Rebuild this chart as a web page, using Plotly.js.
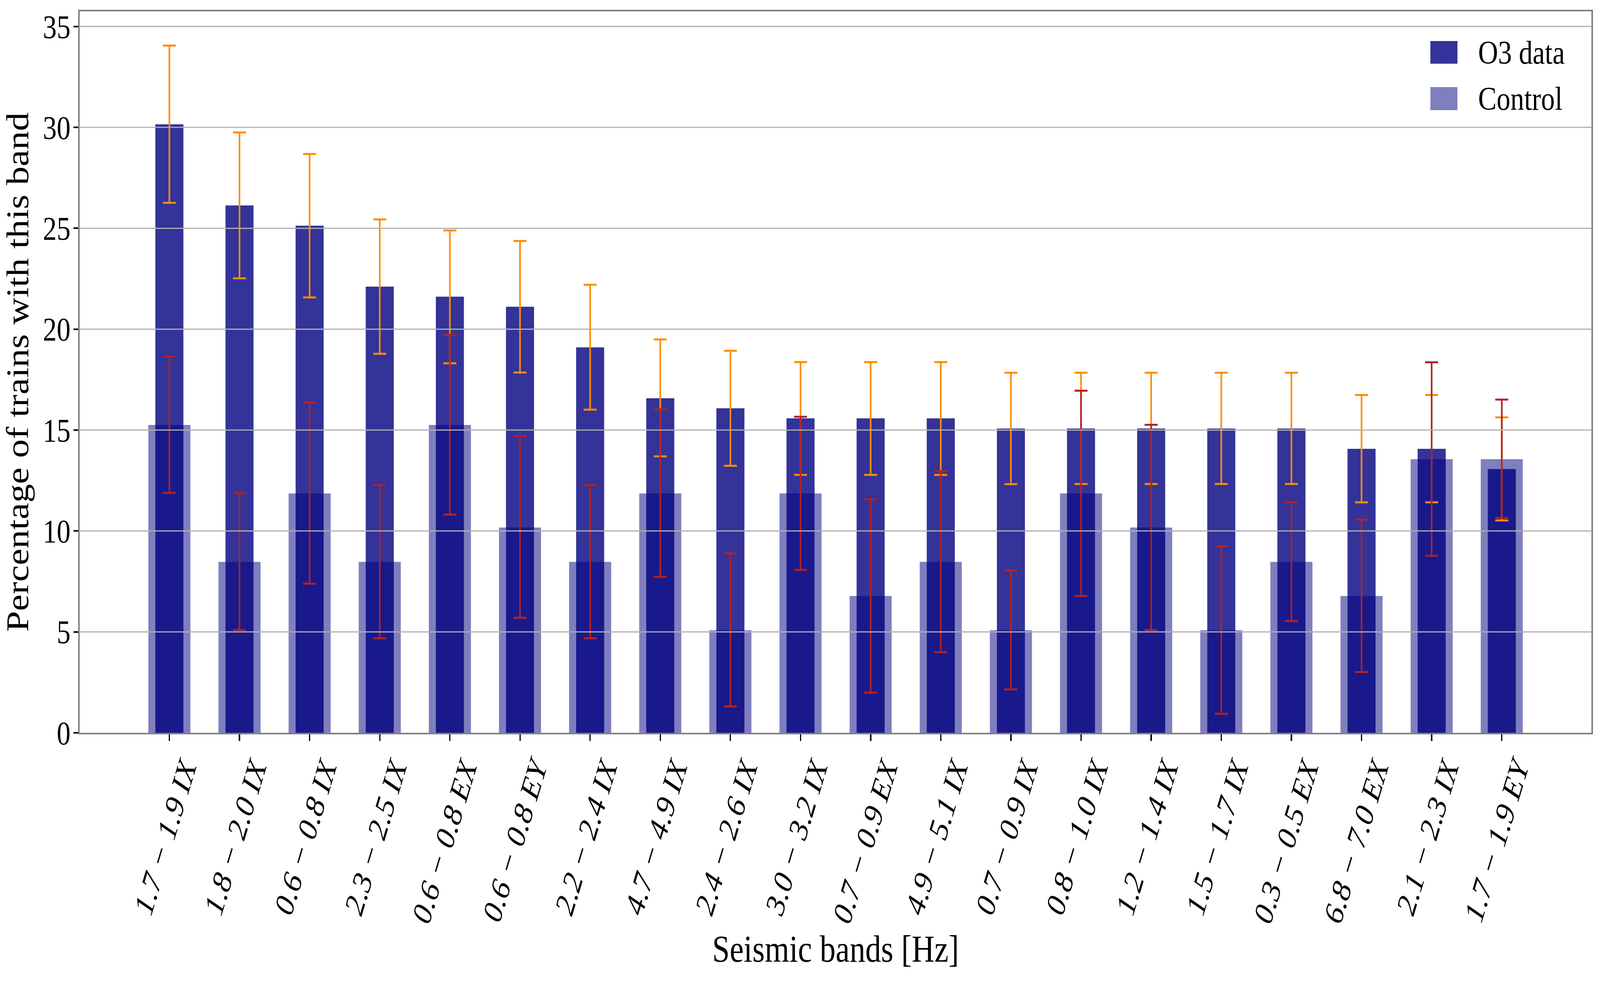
<!DOCTYPE html>
<html>
<head>
<meta charset="utf-8">
<script src="https://cdn.plot.ly/plotly-3.0.1.min.js"></script>
<style>
  html, body {margin: 0; padding: 0; background: #ffffff; overflow: hidden;}
  #plot {position: absolute; left: 0; top: 0; width: 4924px; height: 2514px; transform-origin: 0 0;}
</style>
</head>
<body>
<div id="plot"></div>
<script>
// seismic bands, in plot order
var bands = ['1.7 \u2212 1.9 IX', '1.8 \u2212 2.0 IX', '0.6 \u2212 0.8 IX', '2.3 \u2212 2.5 IX', '0.6 \u2212 0.8 EX',
             '0.6 \u2212 0.8 EY', '2.2 \u2212 2.4 IX', '4.7 \u2212 4.9 IX', '2.4 \u2212 2.6 IX', '3.0 \u2212 3.2 IX',
             '0.7 \u2212 0.9 EX', '4.9 \u2212 5.1 IX', '0.7 \u2212 0.9 IX', '0.8 \u2212 1.0 IX', '1.2 \u2212 1.4 IX',
             '1.5 \u2212 1.7 IX', '0.3 \u2212 0.5 EX', '6.8 \u2212 7.0 EX', '2.1 \u2212 2.3 IX', '1.7 \u2212 1.9 EY']

// O3 data: percentage and error interval
var o3 = [30.15, 26.13, 25.13, 22.11, 21.61, 21.11, 19.10, 16.58, 16.08, 15.58,
          15.58, 15.58, 15.08, 15.08, 15.08, 15.08, 15.08, 14.07, 14.07, 13.07]
var o3_lo = [26.26, 22.52, 21.57, 18.78, 18.31, 17.85, 16.01, 13.70, 13.23, 12.78,
             12.78, 12.78, 12.32, 12.33, 12.33, 12.33, 12.33, 11.42, 11.42, 10.52]
var o3_hi = [34.05, 29.75, 28.68, 25.44, 24.89, 24.37, 22.20, 19.49, 18.93, 18.37,
             18.37, 18.37, 17.84, 17.84, 17.84, 17.84, 17.84, 16.74, 16.74, 15.63]

// control sample
var ctrl = [15.25, 8.47, 11.86, 8.47, 15.25, 10.17, 8.47, 11.86, 5.08, 11.86,
            6.78, 8.47, 5.08, 11.86, 10.17, 5.08, 8.47, 6.78, 13.56, 13.56]
var ctrl_lo = [11.89, 5.09, 7.39, 4.68, 10.81, 5.69, 4.68, 7.73, 1.30, 8.07,
               1.99, 3.99, 2.15, 6.78, 5.09, 0.94, 5.54, 3.01, 8.77, 10.64]
var ctrl_hi = [18.64, 11.88, 16.36, 12.27, 19.72, 14.70, 12.27, 16.03, 8.89, 15.66,
               11.57, 12.96, 8.04, 16.95, 15.26, 9.24, 11.42, 10.56, 18.36, 16.51]

var y_ticks = [0, 5, 10, 15, 20, 25, 30, 35]
var legend_names = ['O3 data', 'Control']

var serif = 'Liberation Serif, DejaVu Serif, serif'
var o3_color = 'rgba(0,0,128,0.8)'
var ctrl_color = 'rgba(0,0,128,0.5)'

function up(v, hi) { return hi.map(function(h, i) { return h - v[i] }) }
function down(v, lo) { return lo.map(function(l, i) { return v[i] - l }) }

var o3_trace = {
   name: legend_names[0],
   type: 'bar',
   x: bands,
   y: o3,
   width: 0.4,
   marker: {color: o3_color, line: {width: 0}},
   hoverinfo: 'x+y'
}
var ctrl_trace = {
   name: legend_names[1],
   type: 'bar',
   x: bands,
   y: ctrl,
   width: 0.6,
   marker: {color: ctrl_color, line: {width: 0}},
   hoverinfo: 'x+y'
}
// error bars drawn on top of all bars, as matplotlib's errorbar does
var o3_err = {
   type: 'scatter',
   mode: 'markers',
   x: bands,
   y: o3,
   marker: {size: 1, opacity: 0},
   showlegend: false,
   hoverinfo: 'skip',
   error_y: {type: 'data', symmetric: false, array: up(o3, o3_hi), arrayminus: down(o3, o3_lo),
             color: '#ff8c00', thickness: 5, width: 20}
}
var ctrl_err = {
   type: 'scatter',
   mode: 'markers',
   x: bands,
   y: ctrl,
   marker: {size: 1, opacity: 0},
   showlegend: false,
   hoverinfo: 'skip',
   error_y: {type: 'data', symmetric: false, array: up(ctrl, ctrl_hi), arrayminus: down(ctrl, ctrl_lo),
             color: '#b22222', thickness: 5, width: 20}
}

// grid sits above the bars in the original
var grid = y_ticks.slice(1).map(function(t) {
   return {type: 'line', xref: 'paper', yref: 'y', x0: 0, x1: 1, y0: t, y1: t,
           layer: 'above', line: {color: '#b0b0b0', width: 3}}
})

// legend with big square patches
var swatches = [
   {type: 'rect', xref: 'paper', yref: 'paper', x0: 0.8934, x1: 0.9113, y0: 0.9275, y1: 0.9589,
    fillcolor: o3_color, line: {width: 0}},
   {type: 'rect', xref: 'paper', yref: 'paper', x0: 0.8934, x1: 0.9113, y0: 0.8630, y1: 0.8950,
    fillcolor: ctrl_color, line: {width: 0}}
]
var legend_text = [
   {xref: 'paper', yref: 'paper', x: 0.9245, y: 0.9432, xanchor: 'left', yanchor: 'middle',
    text: legend_names[0], showarrow: false, font: {family: serif, size: 85, color: '#000'}},
   {xref: 'paper', yref: 'paper', x: 0.9245, y: 0.8790, xanchor: 'left', yanchor: 'middle',
    text: legend_names[1], showarrow: false, font: {family: serif, size: 85, color: '#000'}}
]

var layout = {
   width: 4924,
   height: 2514,
   margin: {l: 245, r: 26, t: 29, b: 638},
   paper_bgcolor: '#ffffff',
   plot_bgcolor: '#ffffff',
   barmode: 'overlay',
   showlegend: false,
   font: {family: serif, color: '#000000'},
   xaxis: {
      type: 'category',
      range: [-1.28, 20.28],
      tickangle: -70,
      tickfont: {family: serif, size: 85, style: 'italic', color: '#000'},
      ticks: 'outside',
      ticklen: 17,
      tickwidth: 4,
      tickcolor: '#000',
      ticklabelstandoff: -12,
      ticklabelshift: 45,
      showgrid: false,
      showline: true,
      linecolor: '#808080',
      linewidth: 4,
      mirror: true,
      automargin: false,
      title: {text: 'Seismic bands [Hz]', font: {family: serif, size: 97, color: '#000'}, standoff: 18}
   },
   yaxis: {
      range: [0, 35.75],
      tickvals: y_ticks,
      tickfont: {family: serif, size: 85, color: '#000'},
      ticks: 'outside',
      ticklen: 15,
      tickwidth: 4,
      tickcolor: '#000',
      ticklabelstandoff: -8,
      showgrid: false,
      zeroline: false,
      showline: true,
      linecolor: '#808080',
      linewidth: 4,
      mirror: true,
      automargin: false,
      title: {text: 'Percentage of trains with this band', font: {family: serif, size: 96, color: '#000'}, standoff: 14}
   },
   shapes: grid.concat(swatches),
   annotations: legend_text
}

var plot_div = document.getElementById('plot')
Plotly.newPlot(plot_div, [o3_trace, ctrl_trace, o3_err, ctrl_err], layout, {staticPlot: true}).then(function() {
   // the browser window may be narrower than the 4924 x 2514 figure: squeeze it to fit
   var sx = (window.innerWidth || 4924) / 4924
   var sy = (window.innerHeight || 2514) / 2514
   plot_div.style.transform = 'scale(' + sx + ',' + sy + ')'
})
</script>
</body>
</html>
